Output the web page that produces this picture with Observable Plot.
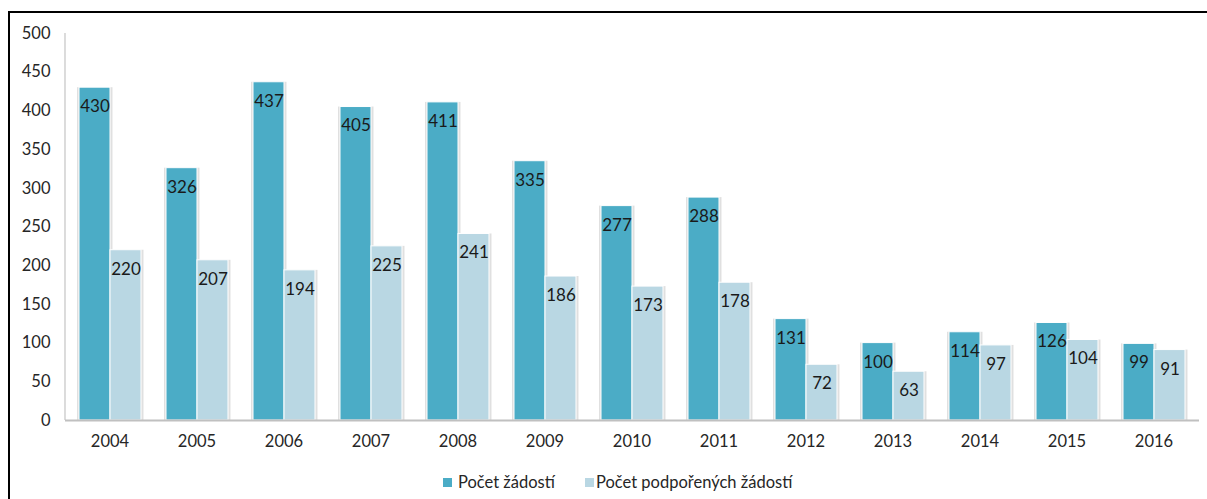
<!DOCTYPE html>
<html>
<head>
<meta charset="utf-8">
<script src="https://cdn.jsdelivr.net/npm/d3@7"></script>
<script src="https://cdn.jsdelivr.net/npm/@observablehq/plot@0.6"></script>
<style>
  html, body { margin: 0; padding: 0; background: #fff; }
  body { width: 1207px; height: 499px; position: relative; overflow: hidden; font-family: Lato, "Open Sans", sans-serif; }
  #frame { position: absolute; left: 8px; top: 11px; width: 1210px; height: 500px; border-left: 2px solid #000; border-top: 2px solid #000; box-sizing: border-box; pointer-events: none; }
  #chart { position: absolute; left: 0; top: 0; }
  #legend { position: absolute; left: 0; top: 462px; width: 1207px; height: 37px; font-size: 16.5px; color: #262626; }
  .sw { position: absolute; width: 9px; height: 9px; top: 16px; }
  .lt { position: absolute; top: 10px; white-space: nowrap; line-height: 20px; }
</style>
</head>
<body>
<div id="chart"></div>
<div id="legend"></div>
<div id="frame"></div>
<script>
const years = [2004, 2005, 2006, 2007, 2008, 2009, 2010, 2011, 2012, 2013, 2014, 2015, 2016];
const zadosti = [430, 326, 437, 405, 411, 335, 277, 288, 131, 100, 114, 126, 99];
const podporene = [220, 207, 194, 225, 241, 186, 173, 178, 72, 63, 97, 104, 91];
const seriesNames = ["Počet žádostí", "Počet podpořených žádostí"];
const seriesColors = ["#4bacc6", "#b9d7e3"];
const yTicks = [0, 50, 100, 150, 200, 250, 300, 350, 400, 450, 500];

const data = [];
years.forEach((yr, i) => {
  data.push({year: yr, series: seriesNames[0], value: zadosti[i]});
  data.push({year: yr, series: seriesNames[1], value: podporene[i]});
});

const W = 1207, H = 462, mL = 65, mR = 8, mT = 33, mB = 42;

const chart = Plot.plot({
  width: W,
  height: H,
  marginTop: mT,
  marginBottom: mB,
  marginLeft: mL,
  marginRight: mR,
  style: {fontFamily: "Lato, 'Open Sans', sans-serif", fontSize: "16.5px", color: "#262626", background: "transparent"},
  fx: {domain: years, paddingInner: 0.275, paddingOuter: 0.1375, label: null, tickSize: 0, tickPadding: 15, tickFormat: d => String(d)},
  x: {domain: seriesNames, padding: 0, axis: null},
  y: {domain: [0, 500], axis: null},
  color: {domain: seriesNames, range: seriesColors},
  marks: [
    Plot.axisY(yTicks, {tickSize: 0, tickPadding: 28, label: null}),
    Plot.barY(data, {fx: "year", x: "series", y: "value", fill: "#000", fillOpacity: 0.12, insetLeft: -2, insetRight: -2.5}),
    Plot.barY(data, {fx: "year", x: "series", y: "value", fill: "series", stroke: "#fff", strokeWidth: 1}),
    Plot.text(data, {fx: "year", x: "series", y: "value", text: d => String(d.value), dy: 19, lineAnchor: "middle", textAnchor: "middle", fill: "#1a1a1a", fontSize: 17})
  ]
});
document.getElementById("chart").appendChild(chart);

// axis lines derived from the scales
const svg = d3.select(chart);
const ys = chart.scale("y");
const y0 = ys.apply(0), y500 = ys.apply(500);
svg.append("line").attr("x1", mL).attr("x2", mL).attr("y1", y500).attr("y2", y0)
  .attr("stroke", "#c4c4c4").attr("stroke-width", 1.2);
svg.append("line").attr("x1", mL).attr("x2", W - mR).attr("y1", y0 + 0.5).attr("y2", y0 + 0.5)
  .attr("stroke", "#c0c0c0").attr("stroke-width", 2);

// legend
const legend = document.getElementById("legend");
const legendPos = [[443, 458], [585, 596]];
seriesNames.forEach((name, i) => {
  const sw = document.createElement("div");
  sw.className = "sw";
  sw.style.left = legendPos[i][0] + "px";
  sw.style.background = seriesColors[i];
  legend.appendChild(sw);
  const t = document.createElement("div");
  t.className = "lt";
  t.style.left = legendPos[i][1] + "px";
  t.textContent = name;
  legend.appendChild(t);
});
</script>
</body>
</html>
